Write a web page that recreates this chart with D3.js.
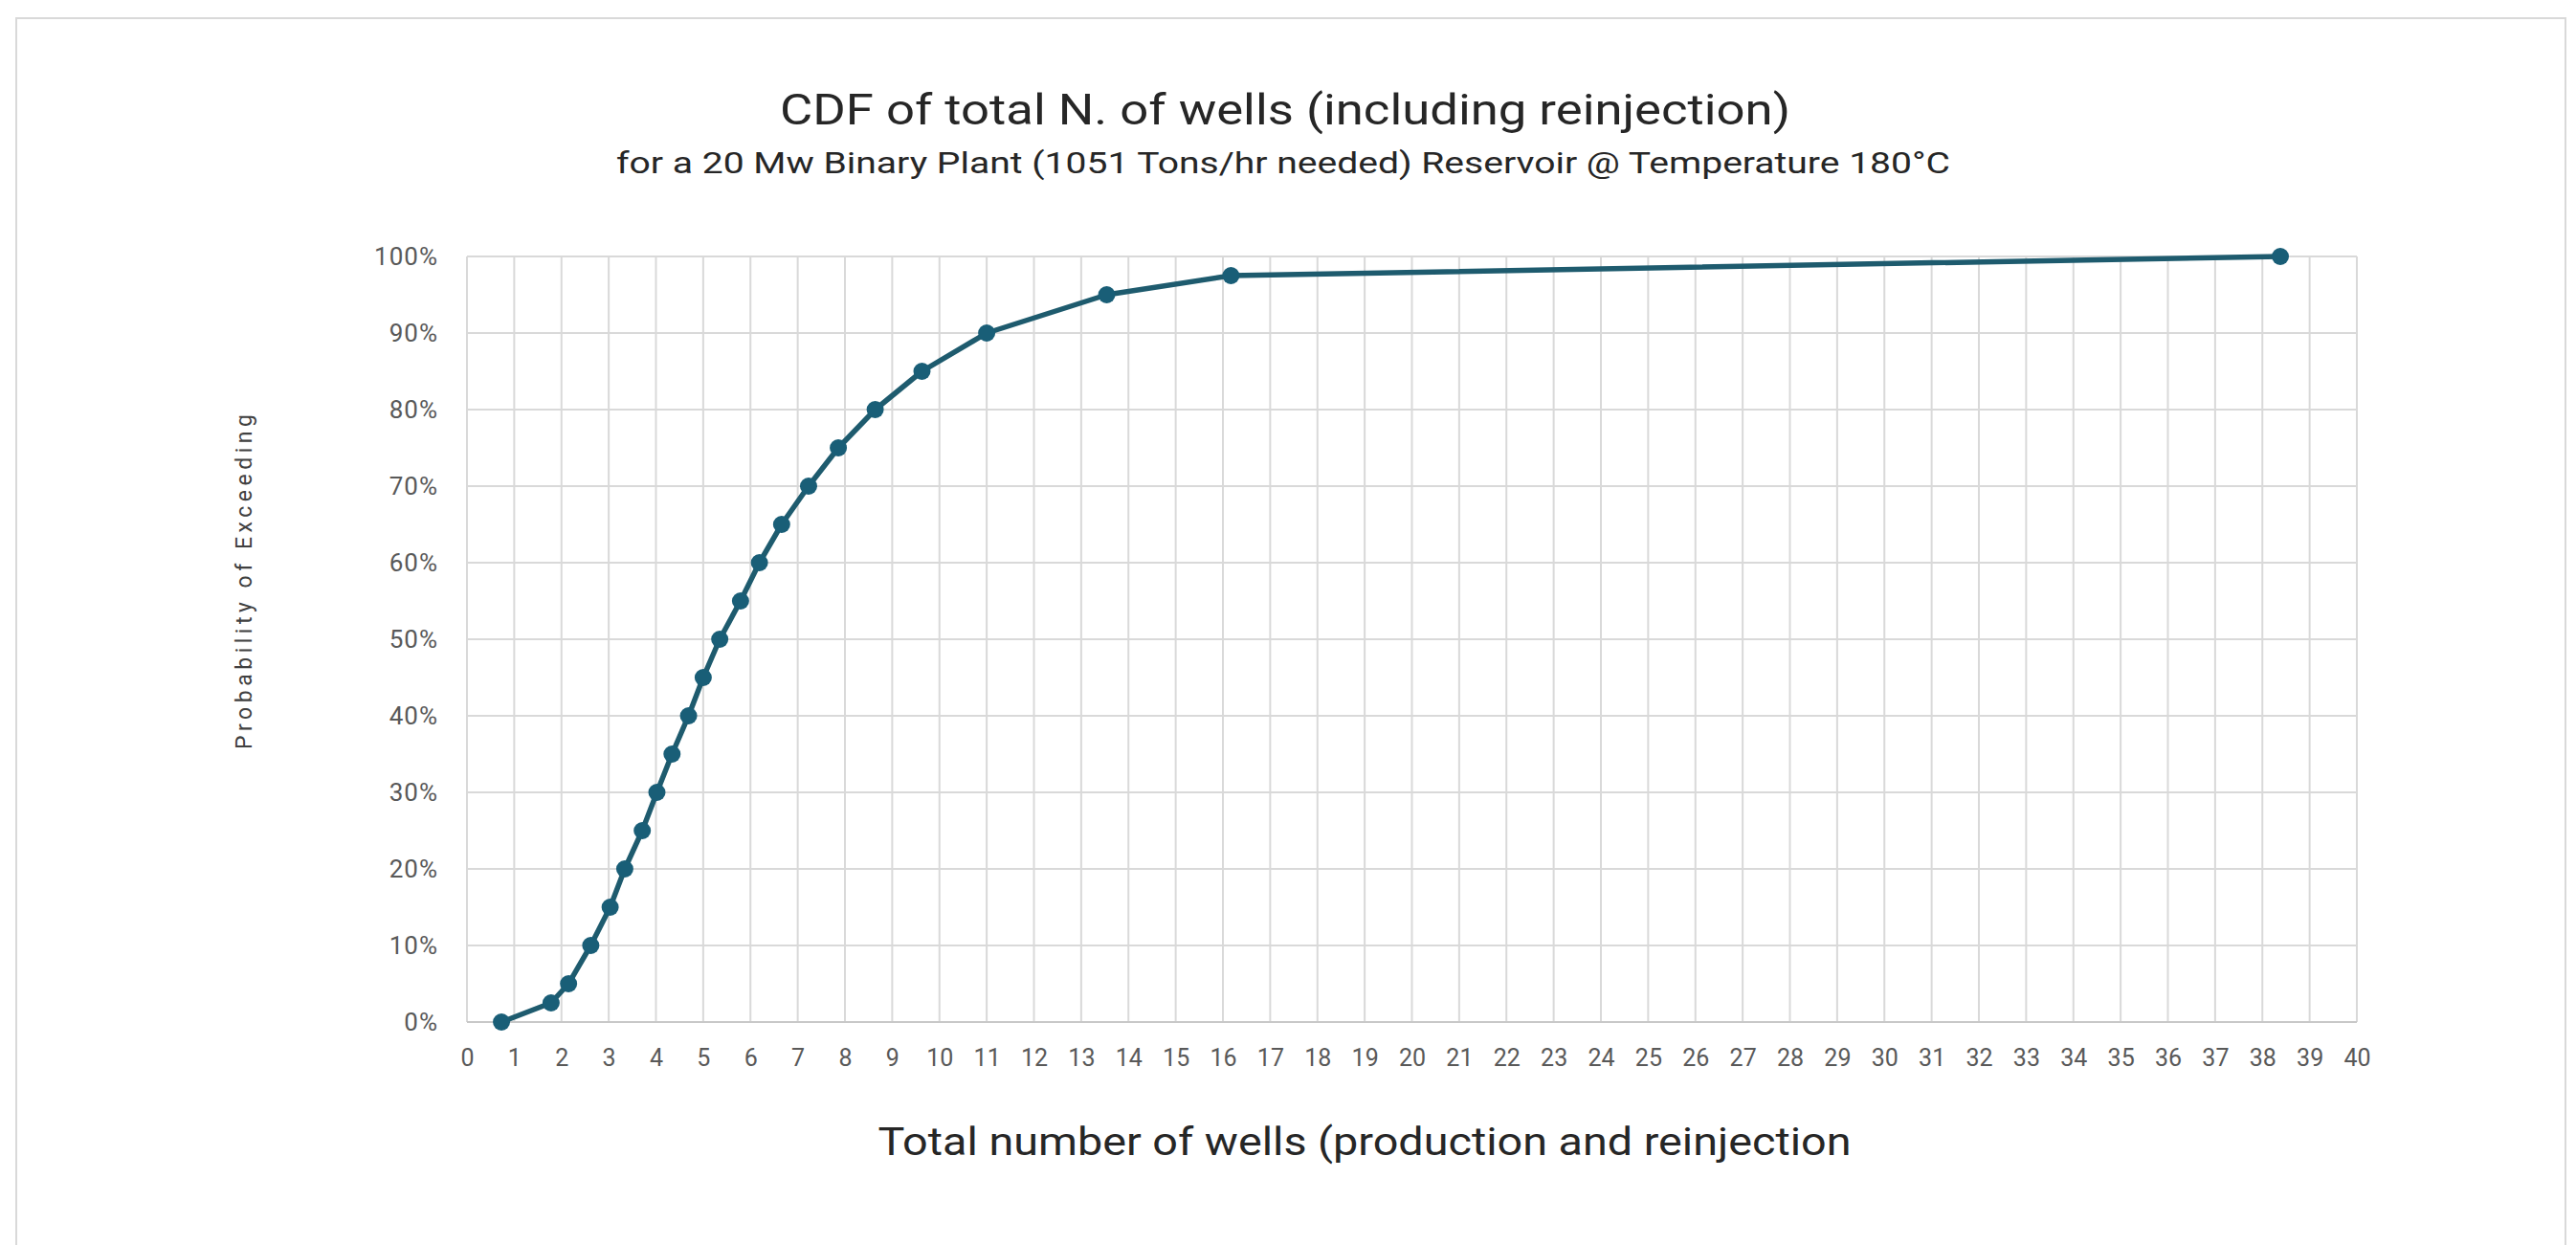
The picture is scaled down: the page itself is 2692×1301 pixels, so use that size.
<!DOCTYPE html>
<html lang="en">
<head>
  <meta charset="UTF-8">
  <title>CDF of total N. of wells</title>
  <script src="https://d3js.org/d3.v7.min.js"></script>
  <style>
    body { margin: 0; background: #fff; }
    svg { display: block; font-family: Roboto, "Open Sans", sans-serif; }
    .grid line { stroke: #d9d9d9; stroke-width: 2px; }
    .tick text { fill: #595959; }
  </style>
</head>
<body>
  <svg width="2692" height="1301"></svg>

  <script>
    const width = 2692, height = 1301;

    // Data: total wells vs. cumulative probability
    const wells = [0.73, 1.78, 2.15, 2.62, 3.03, 3.34, 3.71, 4.02, 4.34, 4.69, 5.0, 5.35,
                   5.79, 6.19, 6.66, 7.23, 7.86, 8.64, 9.63, 11.0, 13.54, 16.17, 38.38];
    const probability = [0, 0.025, 0.05, 0.10, 0.15, 0.20, 0.25, 0.30, 0.35, 0.40, 0.45, 0.50,
                         0.55, 0.60, 0.65, 0.70, 0.75, 0.80, 0.85, 0.90, 0.95, 0.975, 1.0];
    const xTicks = d3.range(0, 41);
    const yTicks = d3.range(0, 1.01, 0.1);

    const points = wells.map((w, i) => ({ x: w, y: probability[i] }));

    const svg = d3.select("svg");

    // outer chart frame
    svg.append("rect")
      .attr("x", 17).attr("y", 19)
      .attr("width", 2664).attr("height", 1320)
      .attr("fill", "none")
      .attr("stroke", "#d9d9d9")
      .attr("stroke-width", 2);

    const plotLeft = 488, plotRight = 2463, plotTop = 268, plotBottom = 1068;

    const x = d3.scaleLinear().domain([0, 40]).range([plotLeft, plotRight]);
    const y = d3.scaleLinear().domain([0, 1]).range([plotBottom, plotTop]);

    // vertical grid
    svg.append("g").attr("class", "grid")
      .selectAll("line")
      .data(xTicks)
      .join("line")
      .attr("x1", d => x(d)).attr("x2", d => x(d))
      .attr("y1", plotTop).attr("y2", plotBottom);

    // horizontal grid
    svg.append("g").attr("class", "grid")
      .selectAll("line")
      .data(yTicks)
      .join("line")
      .attr("x1", plotLeft).attr("x2", plotRight)
      .attr("y1", d => y(d)).attr("y2", d => y(d))
      .style("stroke", d => d === 0 ? "#c8c8c8" : null);

    // axes (labels only)
    const xAxis = svg.append("g")
      .attr("transform", `translate(0,${plotBottom})`)
      .call(d3.axisBottom(x).tickValues(xTicks).tickSize(0).tickPadding(28).tickFormat(d3.format("d")));
    xAxis.select(".domain").remove();
    xAxis.selectAll("text").attr("font-size", 25).attr("font-family", "Roboto, sans-serif");

    const yAxis = svg.append("g")
      .attr("transform", `translate(${plotLeft},0)`)
      .call(d3.axisLeft(y).tickValues(yTicks).tickSize(0).tickPadding(30).tickFormat(d3.format(".0%")));
    yAxis.select(".domain").remove();
    yAxis.selectAll("text").attr("font-size", 26).attr("font-family", "Roboto, sans-serif")
      .attr("letter-spacing", 1);

    // the curve
    const line = d3.line().x(d => x(d.x)).y(d => y(d.y));
    svg.append("path")
      .datum(points)
      .attr("d", line)
      .attr("fill", "none")
      .attr("stroke", "#1e5b6e")
      .attr("stroke-width", 5.5)
      .attr("stroke-linejoin", "round");

    svg.append("g")
      .selectAll("circle")
      .data(points)
      .join("circle")
      .attr("cx", d => x(d.x))
      .attr("cy", d => y(d.y))
      .attr("r", 9)
      .attr("fill", "#195e77");

    // titles
    svg.append("text")
      .attr("x", 1343).attr("y", 130)
      .attr("text-anchor", "middle")
      .attr("font-size", 45)
      .attr("fill", "#262626")
      .attr("textLength", 1056).attr("lengthAdjust", "spacingAndGlyphs")
      .text("CDF of total N. of wells (including reinjection)");

    svg.append("text")
      .attr("x", 1341).attr("y", 181)
      .attr("text-anchor", "middle")
      .attr("font-size", 32)
      .attr("fill", "#262626")
      .attr("textLength", 1394).attr("lengthAdjust", "spacingAndGlyphs")
      .text("for a 20 Mw Binary Plant (1051 Tons/hr needed) Reservoir @ Temperature 180°C");

    svg.append("text")
      .attr("x", 1426).attr("y", 1207)
      .attr("text-anchor", "middle")
      .attr("font-size", 40)
      .attr("fill", "#262626")
      .attr("textLength", 1017).attr("lengthAdjust", "spacingAndGlyphs")
      .text("Total number of wells  (production and reinjection");

    svg.append("text")
      .attr("transform", "translate(263,608) rotate(-90)")
      .attr("text-anchor", "middle")
      .attr("font-size", 23)
      .attr("fill", "#404040")
      .attr("textLength", 350).attr("lengthAdjust", "spacing")
      .text("Probability of Exceeding");
  </script>
</body>
</html>
